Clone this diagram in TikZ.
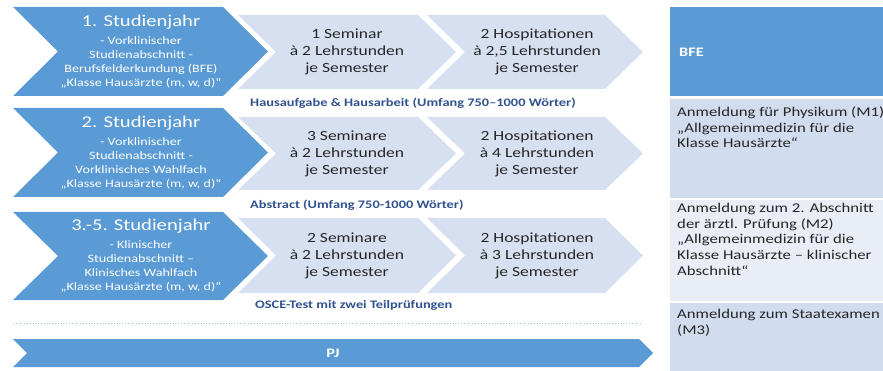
\documentclass[tikz,border=0pt]{standalone}
\usepackage{fontspec}
\setmainfont{Carlito}[FakeStretch=1.25]
\usepackage{tikz}

\definecolor{blau}{HTML}{5B9BD5}
\definecolor{hellblau}{HTML}{D6E0F1}
\definecolor{kasten}{HTML}{D1DCEE}
\definecolor{kastenhell}{HTML}{E8EDF6}
\definecolor{dunkelblau}{HTML}{2F528F}
\definecolor{punkt}{HTML}{9DC3E6}

% Pfeil: Farbe, x links, x Spitze, y oben, y unten, Tiefe
\newcommand{\pfeil}[6]{\fill[#1] (#2,#4) -- ({#3-#6},#4) -- (#3,{(#4+#5)/2}) -- ({#3-#6},#5) -- (#2,#5) -- ({#2+#6},{(#4+#5)/2}) -- cycle;}

\tikzset{
  jahr/.style={align=center, text=white, inner sep=0pt, font=\fontsize{11.3}{14.2}\selectfont},
  lehre/.style={align=center, text=black!85, inner sep=0pt, font=\fontsize{14}{17}\selectfont},
  aufgabe/.style={anchor=west, text=dunkelblau, inner sep=0pt, font=\bfseries\fontsize{11.5}{13}\selectfont},
  pruef/.style={anchor=north west, align=left, text=black!85, inner sep=0pt, font=\fontsize{13.4}{15.7}\selectfont},
}
\newcommand{\titel}[1]{{\fontsize{16.5}{19}\selectfont #1}}

\begin{document}
\begin{tikzpicture}[x=1pt, y=-1pt]

\useasboundingbox (0,0) rectangle (883,371);

% Kasten rechts
\fill[blau] (670,7) rectangle (900,96);
\fill[kasten] (670,99) rectangle (900,198);
\fill[kastenhell] (670,200) rectangle (900,301);
\fill[kasten] (670,303) rectangle (900,371);

% Pfeile
\pfeil{blau}{13}{268}{7}{96}{45}
\pfeil{blau}{13}{268}{108}{197}{45}
\pfeil{blau}{13}{268}{212}{300}{45}
\pfeil{hellblau}{238}{456}{15}{89}{38}
\pfeil{hellblau}{427}{643}{15}{89}{38}
\pfeil{hellblau}{238}{456}{117}{190}{38}
\pfeil{hellblau}{427}{643}{117}{190}{38}
\pfeil{hellblau}{238}{456}{218}{293}{38}
\pfeil{hellblau}{427}{643}{218}{293}{38}
\pfeil{blau}{13}{653}{339}{367}{14}

\draw[punkt, dotted, line width=0.8pt] (13,323) -- (643,323);

% Studienjahre
\node[jahr] (j1) at (141,52) {\titel{1. Studienjahr}\\[3pt]- Vorklinischer\\Studienabschnitt -\\Berufsfelderkundung (BFE)\\„Klasse Hausärzte (m, w, d)“};
\node[jahr] (j2) at (141,153) {\titel{2. Studienjahr}\\[3pt]- Vorklinischer\\Studienabschnitt -\\Vorklinisches Wahlfach\\„Klasse Hausärzte (m, w, d)“};
\node[jahr] (j3) at (141,256) {\titel{3.-5. Studienjahr}\\[3pt]- Klinischer\\Studienabschnitt –\\Klinisches Wahlfach\\„Klasse Hausärzte (m, w, d)“};

% Lehre
\node[lehre] (s1) at (347,52) {1 Seminar\\à 2 Lehrstunden\\je Semester};
\node[lehre] (h1) at (537,52) {2 Hospitationen\\à 2,5 Lehrstunden\\je Semester};
\node[lehre] (s2) at (347,154) {3 Seminare\\à 2 Lehrstunden\\je Semester};
\node[lehre] (h2) at (537,154) {2 Hospitationen\\à 4 Lehrstunden\\je Semester};
\node[lehre] (s3) at (347,256) {2 Seminare\\à 2 Lehrstunden\\je Semester};
\node[lehre] (h3) at (537,256) {2 Hospitationen\\à 3 Lehrstunden\\je Semester};

% Aufgaben
\node[aufgabe] (a1) at (250,103) {Hausaufgabe \& Hausarbeit (Umfang 750–1000 Wörter)};
\node[aufgabe] (a2) at (250,205) {Abstract (Umfang 750-1000 Wörter)};
\node[aufgabe] (a3) at (255,305) {OSCE-Test mit zwei Teilprüfungen};

\node[text=white, inner sep=0pt, font=\bfseries\fontsize{13}{15}\selectfont] (pj) at (333,353) {PJ};

% Pruefungen
\node[pruef, anchor=base west, text=white, font=\bfseries\fontsize{13}{15}\selectfont] (bfe) at (679,57) {BFE};
\node[pruef] (m1) at (677,106.5) {Anmeldung für Physikum (M1)\\„Allgemeinmedizin für die\\Klasse Hausärzte“};
\node[pruef] (m2) at (677,203) {Anmeldung zum 2. Abschnitt\\der ärztl. Prüfung (M2)\\„Allgemeinmedizin für die\\Klasse Hausärzte – klinischer\\Abschnitt“};
\node[pruef] (m3) at (677,309) {Anmeldung zum Staatexamen\\(M3)};

\end{tikzpicture}
\end{document}
